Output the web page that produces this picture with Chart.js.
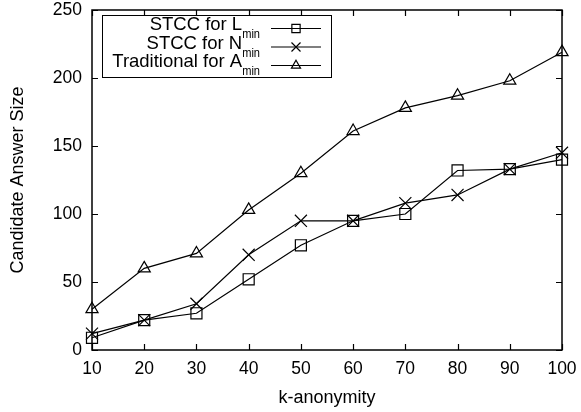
<!DOCTYPE html>
<html>
<head>
<meta charset="utf-8">
<script src="https://cdn.jsdelivr.net/npm/chart.js@4.4.0/dist/chart.umd.min.js"></script>
<style>
  html, body { margin: 0; padding: 0; background: #fff; }
  #wrap { width: 581px; height: 412px; }
</style>
</head>
<body>
<div id="wrap"><canvas id="chart" width="581" height="412"></canvas></div>
<script>
// k-anonymity levels
const kValues = [10, 20, 30, 40, 50, 60, 70, 80, 90, 100];

// candidate answer sizes
const stccL = [9, 22, 27, 52, 77, 95, 100, 132, 133, 140];
const stccN = [12, 22, 34, 70, 95, 95, 108, 114, 133, 145];
const tradA = [30, 60, 71, 103, 130, 161, 178, 187, 198, 219];

const seriesNames = ['STCC for L', 'STCC for N', 'Traditional for A'];
const seriesSubs = ['min', 'min', 'min'];
const seriesMarkers = ['rect', 'crossRot', 'triangle'];
const markerRadius = [7.8, 8.5, 7];

const FONT = '"Liberation Sans", Arial, Helvetica, sans-serif';

function toPoints(vals) {
    return vals.map((v, i) => ({ x: kValues[i], y: v }));
}

function makeDataset(label, vals, idx) {
    return {
        label: label,
        data: toPoints(vals),
        borderColor: '#000',
        backgroundColor: 'transparent',
        borderWidth: 1.2,
        pointStyle: seriesMarkers[idx],
        pointRadius: markerRadius[idx],
        pointBorderWidth: 1.2,
        pointBorderColor: '#000',
        pointBackgroundColor: 'transparent',
        tension: 0,
        clip: false
    };
}

// frame with inward ticks on all four sides, gnuplot style
const framePlugin = {
    id: 'frame',
    afterDraw(chart) {
        const { ctx, chartArea: a, scales } = chart;
        ctx.save();
        ctx.strokeStyle = '#000';
        ctx.lineWidth = 1.2;
        const tl = 6;
        ctx.beginPath();
        scales.x.ticks.forEach(t => {
            const px = Math.round(scales.x.getPixelForValue(t.value)) + 0.5;
            ctx.moveTo(px, a.bottom); ctx.lineTo(px, a.bottom - tl);
            ctx.moveTo(px, a.top); ctx.lineTo(px, a.top + tl);
        });
        scales.y.ticks.forEach(t => {
            const py = Math.round(scales.y.getPixelForValue(t.value)) + 0.5;
            ctx.moveTo(a.left, py); ctx.lineTo(a.left + tl, py);
            ctx.moveTo(a.right, py); ctx.lineTo(a.right - tl, py);
        });
        ctx.stroke();
        ctx.lineWidth = 1.5;
        ctx.strokeRect(a.left, a.top, a.right - a.left, a.bottom - a.top);
        ctx.restore();
    }
};

// legend box in the upper left, text right-aligned, sample line + marker on the right
const legendPlugin = {
    id: 'customLegend',
    afterDraw(chart) {
        const ctx = chart.ctx;
        const box = { x: 102.5, y: 15.5, w: 229, h: 62 };
        const rowY = [28, 46.5, 65];
        const textRight = 260;
        const subScaleX = 0.82;
        ctx.save();
        ctx.fillStyle = '#fff';
        ctx.fillRect(box.x, box.y, box.w, box.h);
        ctx.strokeStyle = '#000';
        ctx.lineWidth = 1;
        ctx.strokeRect(box.x, box.y, box.w, box.h);
        ctx.textBaseline = 'alphabetic';
        for (let i = 0; i < seriesNames.length; i++) {
            const y = rowY[i];
            ctx.fillStyle = '#000';
            // subscript
            ctx.font = '13.5px ' + FONT;
            const subW = ctx.measureText(seriesSubs[i]).width * subScaleX;
            ctx.save();
            ctx.translate(textRight - subW, y + 10);
            ctx.scale(subScaleX, 1);
            ctx.textAlign = 'left';
            ctx.fillText(seriesSubs[i], 0, 0);
            ctx.restore();
            ctx.font = '18.5px ' + FONT;
            ctx.textAlign = 'right';
            ctx.fillText(seriesNames[i], textRight - subW, y + 2);
            // sample line
            ctx.beginPath();
            ctx.lineWidth = 1.2;
            ctx.moveTo(271, y + 0.5);
            ctx.lineTo(321, y + 0.5);
            ctx.stroke();
            // open marker
            ctx.fillStyle = 'rgba(0,0,0,0)';
            ctx.strokeStyle = '#000';
            Chart.helpers.drawPoint(ctx, {
                pointStyle: seriesMarkers[i],
                radius: markerRadius[i] * 0.75,
                rotation: 0,
                borderWidth: 1.2
            }, 296, y + 0.5);
        }
        ctx.restore();
    }
};

new Chart(document.getElementById('chart'), {
    type: 'line',
    data: {
        datasets: [
            makeDataset('STCC for Lmin', stccL, 0),
            makeDataset('STCC for Nmin', stccN, 1),
            makeDataset('Traditional for Amin', tradA, 2)
        ]
    },
    options: {
        responsive: false,
        animation: false,
        layout: { padding: { top: 10, right: 19, left: 0, bottom: 0 } },
        plugins: {
            legend: { display: false },
            tooltip: { enabled: false }
        },
        scales: {
            x: {
                type: 'linear',
                min: 10,
                max: 100,
                border: { display: false },
                grid: { display: false, drawTicks: false },
                ticks: {
                    stepSize: 10,
                    color: '#000',
                    padding: 9,
                    font: { family: FONT, size: 17.5 }
                },
                title: {
                    display: true,
                    text: 'k-anonymity',
                    color: '#000',
                    font: { family: FONT, size: 18 },
                    padding: { top: 0, bottom: 3 }
                },
                afterFit(scale) {
                    scale.height = 62;
                    scale.paddingLeft = 0;
                    scale.paddingRight = 0;
                }
            },
            y: {
                min: 0,
                max: 250,
                border: { display: false },
                grid: { display: false, drawTicks: false },
                ticks: {
                    stepSize: 50,
                    color: '#000',
                    padding: 10,
                    font: { family: FONT, size: 17.5 }
                },
                title: {
                    display: true,
                    text: 'Candidate Answer Size',
                    color: '#000',
                    font: { family: FONT, size: 18 },
                    padding: { top: 7, bottom: 0 }
                },
                afterFit(scale) {
                    scale.width = 92;
                    scale.paddingTop = 0;
                    scale.paddingBottom = 0;
                }
            }
        }
    },
    plugins: [framePlugin, legendPlugin]
});
</script>
</body>
</html>
